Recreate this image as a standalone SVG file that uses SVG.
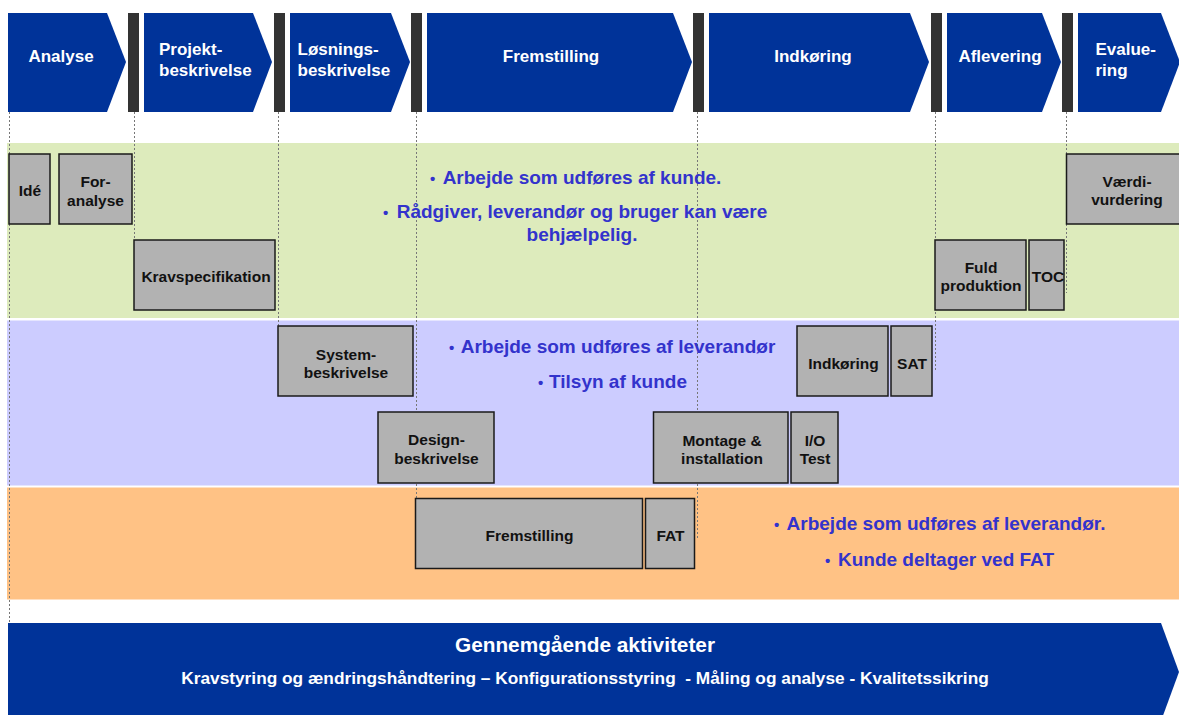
<svg xmlns="http://www.w3.org/2000/svg" width="1179" height="715" viewBox="0 0 1179 715">
<style>
.chev{fill:#003399}
.bar{fill:#333333}
.ht{font-family:"Liberation Sans",Arial,sans-serif;font-weight:bold;font-size:17px;fill:#ffffff}
.box{fill:#b2b2b2;stroke:#1a1a1a;stroke-width:1.5}
.bt{font-family:"Liberation Sans",Arial,sans-serif;font-weight:bold;font-size:15.5px;fill:#111111;text-anchor:middle}
.nt{font-family:"Liberation Sans",Arial,sans-serif;font-weight:bold;font-size:19px;fill:#3333cc;text-anchor:middle}
.bul{font-family:"Liberation Sans",Arial,sans-serif;font-weight:bold;font-size:15px;fill:#3333cc}
.dot{stroke:#777777;stroke-width:1;stroke-dasharray:2 2;fill:none}
.gt{font-family:"Liberation Sans",Arial,sans-serif;font-weight:bold;fill:#ffffff;text-anchor:middle}
</style>
<rect x="0" y="0" width="1179" height="715" fill="#ffffff"/>

<!-- bands -->
<g id="bands">
<rect x="7" y="143" width="1172" height="175" fill="#ddebbc"/>
<rect x="7" y="320.5" width="1172" height="165" fill="#ccccff"/>
<rect x="7" y="487.5" width="1172" height="112" fill="#ffc285"/>
</g>

<!-- header phases -->
<g id="phase-analyse">
<polygon class="chev" points="8,13 107,13 126,62 107,112 8,112"/>
<text class="ht" x="61" y="62" text-anchor="middle">Analyse</text>
</g>
<rect class="bar" x="128" y="13" width="11" height="99"/>
<g id="phase-projekt">
<polygon class="chev" points="144,13 253,13 272,62 253,112 144,112"/>
<text class="ht" x="159" y="55">Projekt-</text>
<text class="ht" x="159" y="76">beskrivelse</text>
</g>
<rect class="bar" x="274" y="13" width="11" height="99"/>
<g id="phase-loesning">
<polygon class="chev" points="290,13 391,13 410,62 391,112 290,112"/>
<text class="ht" x="297.5" y="55">Løsnings-</text>
<text class="ht" x="297.5" y="76">beskrivelse</text>
</g>
<rect class="bar" x="411" y="13" width="11" height="99"/>
<g id="phase-fremstilling">
<polygon class="chev" points="427,13 673,13 692,62 673,112 427,112"/>
<text class="ht" x="551" y="62" text-anchor="middle">Fremstilling</text>
</g>
<rect class="bar" x="693" y="13" width="11" height="99"/>
<g id="phase-indkoering">
<polygon class="chev" points="709,13 910,13 929,62 910,112 709,112"/>
<text class="ht" x="813" y="62" text-anchor="middle">Indkøring</text>
</g>
<rect class="bar" x="931" y="13" width="11" height="99"/>
<g id="phase-aflevering">
<polygon class="chev" points="947,13 1042,13 1061,62 1042,112 947,112"/>
<text class="ht" x="1000" y="62" text-anchor="middle">Aflevering</text>
</g>
<rect class="bar" x="1062" y="13" width="11" height="99"/>
<g id="phase-evaluering">
<polygon class="chev" points="1078,13 1161,13 1180,62 1161,112 1078,112"/>
<text class="ht" x="1095.5" y="55">Evalue-</text>
<text class="ht" x="1095.5" y="76">ring</text>
</g>

<!-- dotted phase guide lines -->
<g id="connectors">
<line class="dot" x1="9.5" y1="112" x2="9.5" y2="623"/>
<line class="dot" x1="134.5" y1="112" x2="134.5" y2="240"/>
<line class="dot" x1="278.5" y1="112" x2="278.5" y2="326"/>
<line class="dot" x1="416.5" y1="112" x2="416.5" y2="498"/>
<line class="dot" x1="697.5" y1="112" x2="697.5" y2="538"/>
<line class="dot" x1="935.5" y1="112" x2="935.5" y2="372"/>
<line class="dot" x1="1066.5" y1="112" x2="1066.5" y2="293"/>
</g>

<!-- band notes -->
<g id="note-kunde">
<text class="bul" x="430" y="184">•</text>
<text class="nt" x="582" y="184">Arbejde som udføres af kunde.</text>
<text class="bul" x="383" y="218">•</text>
<text class="nt" x="582" y="218">Rådgiver, leverandør og bruger kan være</text>
<text class="nt" x="582" y="241">behjælpelig.</text>
</g>
<g id="note-leverandoer">
<text class="bul" x="449" y="353">•</text>
<text class="nt" x="618" y="353">Arbejde som udføres af leverandør</text>
<text class="bul" x="538" y="388">•</text>
<text class="nt" x="618" y="388">Tilsyn af kunde</text>
</g>
<g id="note-fat">
<text class="bul" x="774" y="530">•</text>
<text class="nt" x="946" y="530">Arbejde som udføres af leverandør.</text>
<text class="bul" x="825" y="566">•</text>
<text class="nt" x="946" y="566">Kunde deltager ved FAT</text>
</g>

<!-- activity boxes -->
<g id="box-ide"><rect class="box" x="9" y="154" width="41" height="70"/><text class="bt" x="30" y="196">Idé</text></g>
<g id="box-foranalyse"><rect class="box" x="59" y="154" width="73" height="70"/><text class="bt" x="95.5" y="187">For-</text><text class="bt" x="95.5" y="206">analyse</text></g>
<g id="box-krav"><rect class="box" x="134" y="240" width="141" height="70"/><text class="bt" x="206" y="282">Kravspecifikation</text></g>
<g id="box-vaerdi"><rect class="box" x="1066.5" y="154" width="120" height="70"/><text class="bt" x="1127" y="187">Værdi-</text><text class="bt" x="1127" y="205">vurdering</text></g>
<g id="box-fuld"><rect class="box" x="935" y="240" width="91" height="70"/><text class="bt" x="981" y="273">Fuld</text><text class="bt" x="981" y="291">produktion</text></g>
<g id="box-toc"><rect class="box" x="1029" y="240" width="35" height="70"/><text class="bt" x="1048" y="282">TOC</text></g>
<g id="box-system"><rect class="box" x="278" y="326" width="135" height="70"/><text class="bt" x="346" y="360">System-</text><text class="bt" x="346" y="378">beskrivelse</text></g>
<g id="box-design"><rect class="box" x="378" y="412" width="116" height="71"/><text class="bt" x="436.5" y="445">Design-</text><text class="bt" x="436.5" y="463.5">beskrivelse</text></g>
<g id="box-indkoering"><rect class="box" x="797" y="326" width="91" height="70"/><text class="bt" x="843.5" y="369">Indkøring</text></g>
<g id="box-sat"><rect class="box" x="891" y="326" width="41" height="70"/><text class="bt" x="912" y="369">SAT</text></g>
<g id="box-montage"><rect class="box" x="653.5" y="412" width="134.5" height="71"/><text class="bt" x="722" y="446">Montage &amp;</text><text class="bt" x="722" y="463.5">installation</text></g>
<g id="box-io"><rect class="box" x="791" y="412" width="47" height="71"/><text class="bt" x="815" y="446">I/O</text><text class="bt" x="815" y="463.5">Test</text></g>
<g id="box-fremstilling"><rect class="box" x="415.5" y="498.5" width="227" height="70"/><text class="bt" x="529.5" y="541">Fremstilling</text></g>
<g id="box-fat"><rect class="box" x="645.5" y="498.5" width="49" height="70"/><text class="bt" x="670.5" y="541">FAT</text></g>

<!-- bottom bar -->
<g id="gennemgaaende">
<polygon class="chev" points="8,623 1161,623 1179,672 1161,721 8,721"/>
<text class="gt" x="585" y="652" font-size="20.8">Gennemgående aktiviteter</text>
<text class="gt" x="585" y="684" font-size="17.3" xml:space="preserve" style="white-space:pre">Kravstyring og ændringshåndtering – Konfigurationsstyring  - Måling og analyse - Kvalitetssikring</text>
</g>
</svg>
